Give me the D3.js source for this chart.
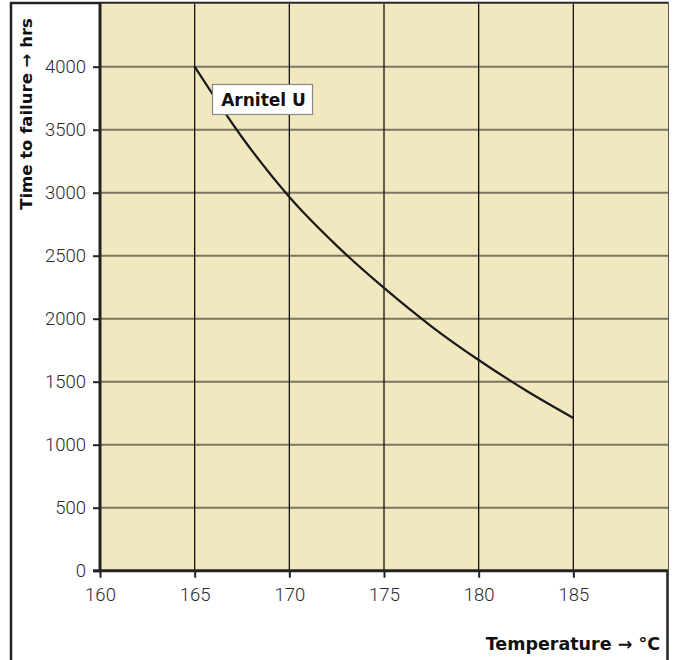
<!DOCTYPE html>
<html><head><meta charset="utf-8">
<script src="https://cdn.jsdelivr.net/npm/d3@7/dist/d3.min.js"></script>
<style>body{margin:0;background:#fff}svg{display:block}</style>
</head><body>
<script>
const temps = [165, 167.5, 170, 172.5, 175, 177.5, 180, 182.5, 185];
const hours = [4000, 3440, 2966, 2580, 2244, 1940, 1672, 1430, 1212];
const xTicks = [160, 165, 170, 175, 180, 185];
const yTicks = [0, 500, 1000, 1500, 2000, 2500, 3000, 3500, 4000];
const seriesName = "Arnitel U";
const xTitle = "Temperature \u2192 \u00b0C";
const yTitle = "Time to failure \u2192 hrs";

const W = 677, H = 660;
const svg = d3.select("body").append("svg").attr("width", W).attr("height", H);
const x = d3.scaleLinear().domain([160, 190]).range([100, 668]);
const y = d3.scaleLinear().domain([0, 4500]).range([570.7, 3.7]);
const lightFont = "Roboto, 'Liberation Sans', Arial, sans-serif";
const boldFont = "'DejaVu Sans', 'Liberation Sans', Arial, sans-serif";

// outer frame
svg.append("rect").attr("x", 11).attr("y", 3).attr("width", 656.5).attr("height", 700)
  .attr("fill", "none").attr("stroke", "#222").attr("stroke-width", 2.5);

// plot background
svg.append("rect").attr("x", x(160)).attr("y", y(4500)).attr("width", x(190) - x(160))
  .attr("height", y(0) - y(4500)).attr("fill", "#f2e8c0");

// horizontal grid
svg.append("g").selectAll("line").data(yTicks.filter(d => d > 0)).join("line")
  .attr("x1", x(160)).attr("x2", x(190)).attr("y1", d => y(d)).attr("y2", d => y(d))
  .attr("stroke", "#7a7662").attr("stroke-width", 2);
// vertical grid
svg.append("g").selectAll("line").data(xTicks.filter(d => d > 160)).join("line")
  .attr("x1", d => x(d)).attr("x2", d => x(d)).attr("y1", y(4500)).attr("y2", y(0))
  .attr("stroke", "#111").attr("stroke-width", 1.3);

// axes
const yAxis = svg.append("g").attr("transform", `translate(${x(160)},0)`)
  .call(d3.axisLeft(y).tickValues(yTicks).tickSize(7).tickPadding(7).tickFormat(d3.format("d")));
const xAxis = svg.append("g").attr("transform", `translate(0,${y(0)})`)
  .call(d3.axisBottom(x).tickValues(xTicks).tickSize(7).tickPadding(10).tickFormat(d3.format("d")));
[yAxis, xAxis].forEach(g => {
  g.select(".domain").remove();
  g.selectAll(".tick line").attr("stroke", "#222").attr("stroke-width", 2);
  g.selectAll(".tick text").attr("fill", "#2a2a2a").attr("font-family", lightFont)
    .attr("font-size", 18.5).attr("font-weight", 300);
});
// axis lines
svg.append("line").attr("x1", x(160)).attr("x2", x(160)).attr("y1", y(4500) - 1).attr("y2", y(0) + 1.5)
  .attr("stroke", "#222").attr("stroke-width", 3);
svg.append("line").attr("x1", x(160) - 7).attr("x2", x(190)).attr("y1", y(0)).attr("y2", y(0))
  .attr("stroke", "#222").attr("stroke-width", 3);

// curve
svg.append("path").datum(temps.map((t, i) => [t, hours[i]]))
  .attr("d", d3.line().x(d => x(d[0])).y(d => y(d[1])).curve(d3.curveMonotoneX))
  .attr("fill", "none").attr("stroke", "#1a1a1a").attr("stroke-width", 2.2);

// label
svg.append("rect").attr("x", 212.5).attr("y", 84.5).attr("width", 100).attr("height", 30)
  .attr("fill", "#fff").attr("stroke", "#888").attr("stroke-width", 1.2);
svg.append("text").attr("x", 263.5).attr("y", 105.5).attr("text-anchor", "middle")
  .attr("font-family", boldFont).attr("font-weight", "bold").attr("font-size", 17)
  .attr("fill", "#111").text(seriesName);

// titles
svg.append("text").attr("transform", "translate(32,114) rotate(-90)")
  .attr("text-anchor", "middle").attr("font-family", boldFont).attr("font-weight", "bold")
  .attr("font-size", 16.5).attr("fill", "#111").text(yTitle);
svg.append("text").attr("x", 660).attr("y", 650).attr("text-anchor", "end")
  .attr("font-family", boldFont).attr("font-weight", "bold").attr("font-size", 17.5)
  .attr("fill", "#111").text(xTitle);
</script>
</body></html>
